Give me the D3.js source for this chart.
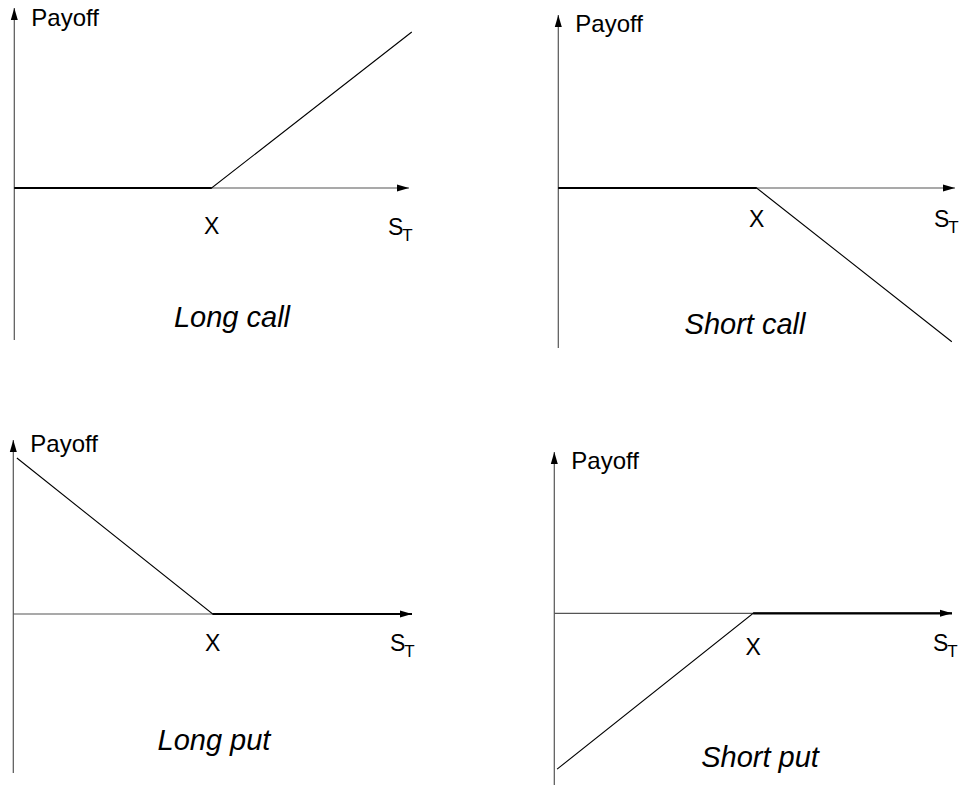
<!DOCTYPE html>
<html lang="en">

<head>
    <meta charset="UTF-8">
    <title>Option Payoffs</title>
    <script src="https://d3js.org/d3.v7.min.js"></script>
</head>

<style>
    body {
        margin: 0;
        background: #fff;
    }

    text {
        font-family: "Liberation Sans", Arial, Helvetica, sans-serif;
        fill: #000;
    }

    .title {
        font-style: italic;
        font-size: 29px;
        text-anchor: middle;
    }
</style>

<body>
    <svg class="chart"></svg>

    <script>
        const svgW = 965;
        const svgH = 785;

        // data: payoff vertices [S_T, payoff] for each position, strike X = 50
        const strike = 50;
        const sDomain = [0, 100];
        const longCall = [[0, 0], [50, 0], [100.7, 50]];
        const shortCall = [[0, 0], [50, 0], [99.2, -49.6]];
        const longPut = [[0.9, 49.2], [50, 0], [100, 0]];
        const shortPut = [[0.7, -49.8], [50, 0], [100, 0]];
        const titles = ["Long call", "Short call", "Long put", "Short put"];
        const series = [longCall, shortCall, longPut, shortPut];

        // layout of each small panel (pixels)
        const panels = [
            { x0: 14.3, x1: 409, y0: 188, top: 8, bottom: 340, unit: 3.12, payoffY: 26, xLabY: 234, sX: 388, sY: 235, tX: 232, tY: 327 },
            { x0: 558.3, x1: 955, y0: 188, top: 15, bottom: 348, unit: 3.10, payoffY: 32, xLabY: 227, sX: 934, sY: 227, tX: 745, tY: 334 },
            { x0: 13.3, x1: 412, y0: 614, top: 440, bottom: 773, unit: 3.17, payoffY: 452, xLabY: 651, sX: 390, sY: 651, tX: 214, tY: 750 },
            { x0: 554.3, x1: 952, y0: 613.3, top: 452, bottom: 785, unit: 3.13, payoffY: 469, xLabY: 655, sX: 933, sY: 651, tX: 760, tY: 767 }
        ];

        const svg = d3.select(".chart")
            .attr("width", svgW)
            .attr("height", svgH)
            .attr("viewBox", `0 0 ${svgW} ${svgH}`);

        // arrow head
        svg.append("defs").append("marker")
            .attr("id", "arrow")
            .attr("viewBox", "0 0 12 8")
            .attr("refX", 12)
            .attr("refY", 4)
            .attr("markerWidth", 12)
            .attr("markerHeight", 8)
            .attr("markerUnits", "userSpaceOnUse")
            .attr("orient", "auto")
            .append("path")
            .attr("d", "M0,0.5L12,4L0,7.5Z")
            .attr("fill", "#000");

        panels.forEach((p, i) => {
            const x = d3.scaleLinear().domain(sDomain).range([p.x0, p.x1]);
            const y = d3.scaleLinear().domain([0, 50]).range([p.y0, p.y0 - 50 * p.unit]);
            const g = svg.append("g").attr("class", "panel");

            // axes
            g.append("line")
                .attr("x1", p.x0).attr("y1", p.bottom)
                .attr("x2", p.x0).attr("y2", p.top)
                .attr("stroke", "#555").attr("stroke-width", 1.2)
                .attr("marker-end", "url(#arrow)");
            g.append("line")
                .attr("x1", x(0)).attr("y1", y(0))
                .attr("x2", x(100)).attr("y2", y(0))
                .attr("stroke", "#555").attr("stroke-width", 1.2)
                .attr("marker-end", "url(#arrow)");

            // payoff line
            const line = d3.line().x(d => x(d[0])).y(d => y(d[1]));
            g.append("path")
                .attr("d", line(series[i]))
                .attr("fill", "none")
                .attr("stroke", "#000")
                .attr("stroke-width", 1.1);

            // zero-payoff stretches lie on the axis and look heavier
            const flat = d3.pairs(series[i]).filter(([a, b]) => a[1] === 0 && b[1] === 0);
            g.selectAll(".flat")
                .data(flat)
                .join("path")
                .attr("class", "flat")
                .attr("d", d => line(d))
                .attr("stroke", "#000")
                .attr("stroke-width", 2.2);

            // labels
            g.append("text")
                .attr("x", p.x0 + 17).attr("y", p.payoffY)
                .attr("font-size", 24)
                .text("Payoff");
            g.append("text")
                .attr("x", x(strike)).attr("y", p.xLabY)
                .attr("text-anchor", "middle")
                .attr("font-size", 23)
                .text("X");
            const s = g.append("text")
                .attr("x", p.sX).attr("y", p.sY)
                .attr("font-size", 23)
                .text("S");
            s.append("tspan")
                .attr("dx", -1)
                .attr("dy", 6)
                .attr("font-size", 17)
                .text("T");
            g.append("text")
                .attr("class", "title")
                .attr("x", p.tX).attr("y", p.tY)
                .text(titles[i]);
        });
    </script>
</body>

</html>
